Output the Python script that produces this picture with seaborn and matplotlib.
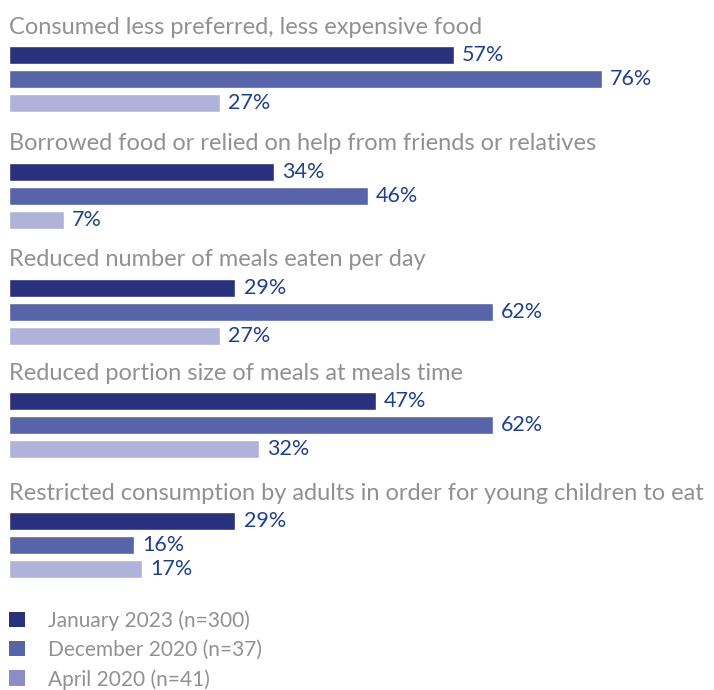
import matplotlib
matplotlib.use("Agg")
import matplotlib.pyplot as plt
from matplotlib.patches import Patch
from matplotlib import font_manager
import seaborn as sns
import pandas as pd

# Food-related coping strategies, share of households (%)
strategies = [
    "Consumed less preferred, less expensive food",
    "Borrowed food or relied on help from friends or relatives",
    "Reduced number of meals eaten per day",
    "Reduced portion size of meals at meals time",
    "Restricted consumption by adults in order for young children to eat",
]
rounds = ["January 2023 (n=300)", "December 2020 (n=37)", "April 2020 (n=41)"]
jan_2023 = [57, 34, 29, 47, 29]
dec_2020 = [76, 46, 62, 62, 16]
apr_2020 = [27, 7, 27, 32, 17]

bar_colors = ["#29317f", "#5764aa", "#b0b2d9"]
legend_colors = ["#29317f", "#5764aa", "#8a8dc6"]
title_color = "#919191"
value_color = "#1d3f9f"

sns.set_theme(style="white")
fams = {f.name for f in font_manager.fontManager.ttflist}
base_font = "Lato" if "Lato" in fams else "DejaVu Sans"
plt.rcParams["font.family"] = [base_font, "DejaVu Sans"]

W, H = 714, 690
fig = plt.figure(figsize=(W / 100, H / 100), dpi=100)

left_px = 9
px_per_pct = 7.8
xmax = (W - left_px) / px_per_pct
pitch = 24  # pixel pitch of bars within a group
mid_centres = [79, 196, 312, 425, 545]

values = list(zip(jan_2023, dec_2020, apr_2020))

for i, (name, vals) in enumerate(zip(strategies, values)):
    top = mid_centres[i] - 1.5 * pitch
    ax = fig.add_axes([left_px / W, 1 - (top + 3 * pitch) / H,
                       (W - left_px) / W, 3 * pitch / H])
    df = pd.DataFrame({"round": rounds, "pct": list(vals)})
    sns.barplot(data=df, y="round", x="pct", hue="round", order=rounds,
                hue_order=rounds, palette=bar_colors, width=0.71,
                legend=False, ax=ax, orient="h", saturation=1)
    for cont in ax.containers:
        ax.bar_label(cont, fmt="%d%%", padding=6, color=value_color,
                     fontsize=15.5)
    ax.set_xlim(0, xmax)
    ax.set_ylim(2.5, -0.5)
    ax.set_axis_off()
    fig.text(left_px / W, 1 - (mid_centres[i] - 52) / H, name,
             ha="left", va="center", color=title_color, fontsize=17.0)

handles = [Patch(facecolor=c, edgecolor="none") for c in legend_colors]
fig.legend(handles, rounds, loc="upper left",
           bbox_to_anchor=(left_px / W, 1 - 610 / H), frameon=False,
           handlelength=0.78, handleheight=0.78,
           handletextpad=1.1, labelspacing=0.44, borderpad=0,
           borderaxespad=0, labelcolor=title_color,
           prop={"size": 15})

fig.savefig("out.png", dpi=100, facecolor="white")
